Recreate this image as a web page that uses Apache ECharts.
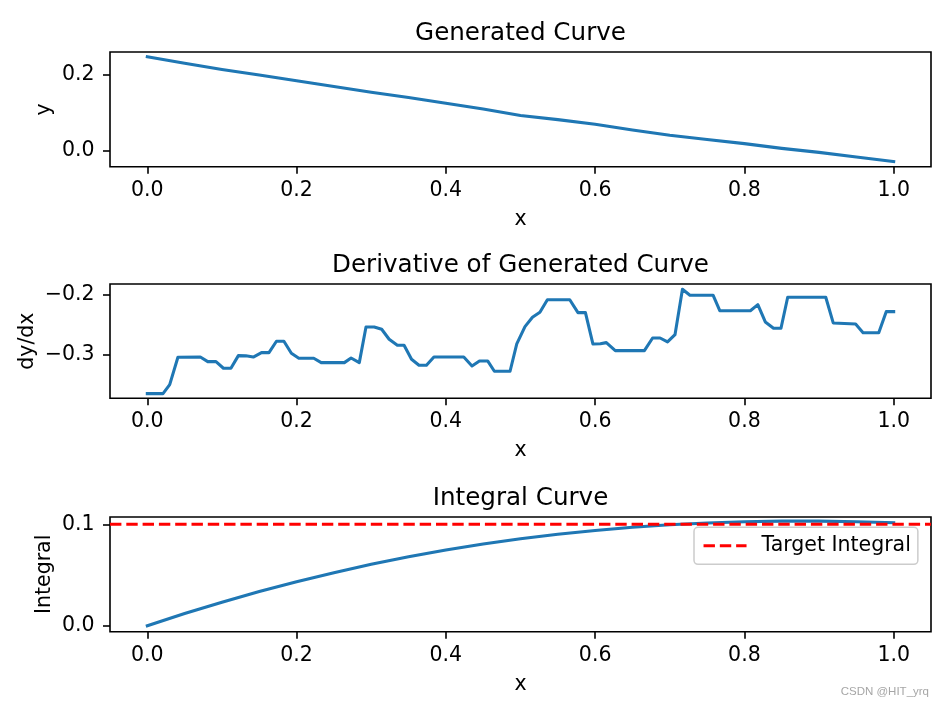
<!DOCTYPE html>
<html>
<head>
<meta charset="utf-8">
<script src="https://cdn.jsdelivr.net/npm/echarts@6/dist/echarts.min.js"></script>
<style>
html,body{margin:0;padding:0;background:#fff;}
#chart{width:944px;height:709px;}
</style>
</head>
<body>
<div id="chart"></div>
<script>
// ---- data ----
const curveX = [0, 0.05, 0.10, 0.15, 0.20, 0.25, 0.30, 0.35, 0.40, 0.45, 0.50, 0.55, 0.60, 0.65, 0.70, 0.75, 0.80, 0.85, 0.90, 0.95, 1.00];
const curveY = [0.247, 0.230, 0.214, 0.199, 0.184, 0.169, 0.154, 0.140, 0.125, 0.110, 0.093, 0.082, 0.070, 0.055, 0.041, 0.030, 0.019, 0.0065, -0.004, -0.016, -0.028];

const derivX = [0, 0.021, 0.030, 0.041, 0.071, 0.081, 0.092, 0.102, 0.112, 0.122, 0.132, 0.142, 0.153, 0.163, 0.173, 0.183, 0.193, 0.203, 0.223, 0.233, 0.264, 0.273, 0.284, 0.293, 0.304, 0.314, 0.324, 0.335, 0.344, 0.354, 0.364, 0.374, 0.384, 0.424, 0.435, 0.445, 0.456, 0.465, 0.486, 0.495, 0.506, 0.516, 0.526, 0.536, 0.566, 0.577, 0.587, 0.597, 0.607, 0.615, 0.627, 0.666, 0.677, 0.687, 0.697, 0.707, 0.717, 0.727, 0.758, 0.767, 0.808, 0.818, 0.828, 0.839, 0.849, 0.858, 0.909, 0.919, 0.949, 0.959, 0.980, 0.990, 1.0];
const derivY = [-0.3646, -0.3646, -0.3497, -0.3043, -0.304, -0.3116, -0.3116, -0.3225, -0.3225, -0.3016, -0.302, -0.304, -0.2967, -0.2967, -0.2778, -0.2778, -0.2977, -0.306, -0.306, -0.3132, -0.3132, -0.3055, -0.3132, -0.2541, -0.2541, -0.258, -0.2745, -0.2844, -0.2844, -0.3077, -0.3176, -0.3176, -0.304, -0.304, -0.3187, -0.3104, -0.3104, -0.3275, -0.3275, -0.2823, -0.2536, -0.2381, -0.2298, -0.209, -0.209, -0.2304, -0.2304, -0.2823, -0.282, -0.2801, -0.2934, -0.2934, -0.2724, -0.2724, -0.279, -0.2669, -0.1917, -0.2016, -0.2016, -0.2272, -0.2272, -0.2172, -0.2459, -0.2563, -0.2563, -0.205, -0.205, -0.2475, -0.2492, -0.2636, -0.2636, -0.2288, -0.2288];

const integralX = [0, 0.05, 0.10, 0.15, 0.20, 0.25, 0.30, 0.35, 0.40, 0.45, 0.50, 0.55, 0.60, 0.65, 0.70, 0.75, 0.80, 0.85, 0.90, 0.95, 1.00];
const integralY = [0, 0.0120, 0.0232, 0.0337, 0.0434, 0.0523, 0.0605, 0.0680, 0.0747, 0.0806, 0.0858, 0.0901, 0.0939, 0.0971, 0.0995, 0.1012, 0.1025, 0.1031, 0.1031, 0.1026, 0.1015];

const targetIntegral = 0.1;

const titles = ['Generated Curve', 'Derivative of Generated Curve', 'Integral Curve'];
const yNames = ['y', 'dy/dx', 'Integral'];
const xName = 'x';
const legendName = 'Target Integral';
const watermark = 'CSDN @HIT_yrq';

const xTicks = [0, 0.2, 0.4, 0.6, 0.8, 1.0];
const yTicksTop = [0, 0.2];
const yTicksMid = [-0.3, -0.2];
const yTicksBot = [0, 0.1];

// ---- styling / layout ----
const FONT = 'DejaVu Sans';
const BLUE = '#1f77b4';
const RED = '#ff0000';
const LW = 3.07;
const DASH = [11.4, 4.9];
const X_MIN = -0.05, X_MAX = 1.05;
const grids = [
  {left: 110, top: 52, width: 821, height: 114.7},
  {left: 110, top: 284, width: 821, height: 114.3},
  {left: 110, top: 517, width: 821, height: 114.7}
];
const yRanges = [[-0.0417, 0.2597], [-0.3723, -0.183], [-0.0059, 0.1072]];
const yTickSets = [yTicksTop, yTicksMid, yTicksBot];
const yNameGaps = [55, 72, 55];
const titleTops = [21.5, 253.5, 486.5];

const fmt = v => {
  const s = Number(v).toFixed(1);
  return s.replace('-', '\u2212');
};

const zip = (a, b) => a.map((v, i) => [v, b[i]]);

const chart = echarts.init(document.getElementById('chart'), null, {renderer: 'canvas'});

const option = {
  animation: false,
  backgroundColor: '#ffffff',
  textStyle: {fontFamily: FONT},
  title: titles.map((t, i) => ({
    text: t,
    left: 520.5,
    top: titleTops[i],
    padding: 0,
    textAlign: 'center',
    textStyle: {fontFamily: FONT, fontSize: 24.6, fontWeight: 'normal', color: '#000'}
  })).concat([{
    text: watermark,
    right: 15,
    top: 686,
    padding: 0,
    textStyle: {fontFamily: 'Liberation Sans', fontSize: 11.5, fontWeight: 'normal', color: '#a6a6a6'}
  }]),
  grid: grids.map(g => Object.assign({show: true, borderColor: '#000', borderWidth: 1.6, backgroundColor: 'transparent', containLabel: false}, g)),
  xAxis: grids.map((g, i) => ({
    type: 'value',
    gridIndex: i,
    min: X_MIN,
    max: X_MAX,
    name: xName,
    nameLocation: 'middle',
    nameGap: 42,
    nameMoveOverlap: false,
    nameTextStyle: {fontFamily: FONT, fontSize: 20.5, color: '#000'},
    axisLine: {show: false, onZero: false},
    axisTick: {show: true, length: 7, customValues: xTicks, lineStyle: {color: '#000', width: 1.6}},
    axisLabel: {show: true, margin: 13, customValues: xTicks, formatter: fmt, fontFamily: FONT, fontSize: 20.5, color: '#000', hideOverlap: false},
    splitLine: {show: false}
  })),
  yAxis: grids.map((g, i) => ({
    type: 'value',
    gridIndex: i,
    min: yRanges[i][0],
    max: yRanges[i][1],
    name: yNames[i],
    nameLocation: 'middle',
    nameRotate: 90,
    nameGap: yNameGaps[i],
    nameMoveOverlap: false,
    nameTextStyle: {fontFamily: FONT, fontSize: 20.5, color: '#000'},
    axisLine: {show: false, onZero: false},
    axisTick: {show: true, length: 7, customValues: yTickSets[i], lineStyle: {color: '#000', width: 1.6}},
    axisLabel: {show: true, margin: 15.5, customValues: yTickSets[i], formatter: fmt, fontFamily: FONT, fontSize: 20.5, color: '#000', hideOverlap: false},
    splitLine: {show: false}
  })),
  legend: {
    show: true,
    data: [legendName],
    left: 694,
    top: 527.3,
    orient: 'vertical',
    padding: [8, 7, 8, 8],
    itemWidth: 43,
    itemHeight: 14,
    itemStyle: {opacity: 0, borderWidth: 0},
    lineStyle: {color: RED, width: LW, type: DASH, cap: 'butt'},
    backgroundColor: 'rgba(255,255,255,0.8)',
    borderColor: '#cccccc',
    borderWidth: 1.5,
    borderRadius: 4,
    textStyle: {fontFamily: FONT, fontSize: 20.5, color: '#000', padding: [0, 0, 0, 10]}
  },
  series: [
    {
      type: 'line', xAxisIndex: 0, yAxisIndex: 0, data: zip(curveX, curveY),
      symbol: 'none', silent: true,
      lineStyle: {color: BLUE, width: LW, cap: 'square', join: 'round'}
    },
    {
      type: 'line', xAxisIndex: 1, yAxisIndex: 1, data: zip(derivX, derivY),
      symbol: 'none', silent: true,
      lineStyle: {color: BLUE, width: LW, cap: 'square', join: 'round'}
    },
    {
      type: 'line', xAxisIndex: 2, yAxisIndex: 2, data: zip(integralX, integralY),
      symbol: 'none', silent: true,
      lineStyle: {color: BLUE, width: LW, cap: 'square', join: 'round'}
    },
    {
      name: legendName,
      type: 'line', xAxisIndex: 2, yAxisIndex: 2,
      data: [[X_MIN, targetIntegral], [X_MAX, targetIntegral]],
      symbol: 'none', silent: true,
      itemStyle: {color: RED},
      lineStyle: {color: RED, width: LW, type: DASH, cap: 'butt'}
    }
  ]
};
chart.setOption(option);
</script>
</body>
</html>
